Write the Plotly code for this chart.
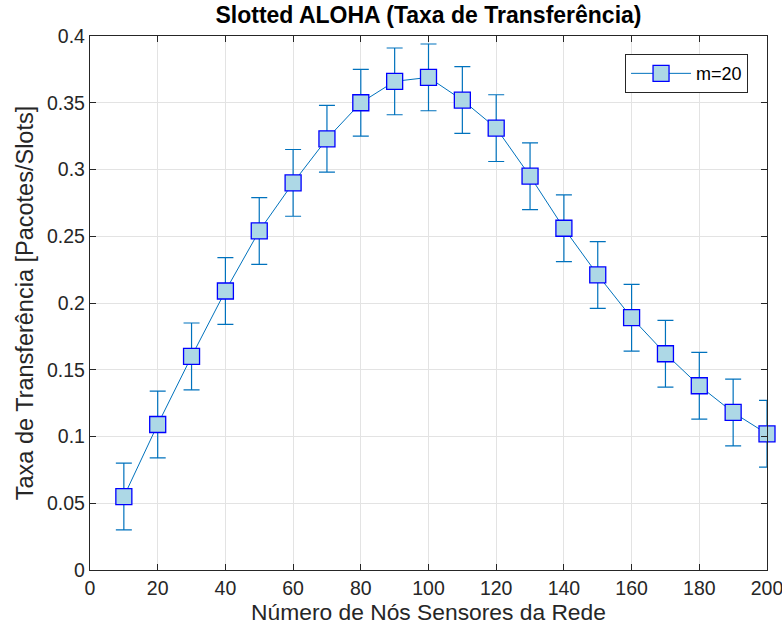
import plotly.graph_objects as go

nodes = [10, 20, 30, 40, 50, 60, 70, 80, 90, 100, 110, 120, 130, 140, 150, 160, 170, 180, 190, 200]
throughput = [0.055, 0.109, 0.160, 0.209, 0.254, 0.290, 0.323, 0.350, 0.366, 0.369,
              0.352, 0.331, 0.295, 0.256, 0.221, 0.189, 0.162, 0.138, 0.118, 0.102]
err = [0.025] * len(nodes)
series_name = "m=20"

xticks = [0, 20, 40, 60, 80, 100, 120, 140, 160, 180, 200]
yticks = [0, 0.05, 0.1, 0.15, 0.2, 0.25, 0.3, 0.35, 0.4]
ytick_text = ["0", "0.05", "0.1", "0.15", "0.2", "0.25", "0.3", "0.35", "0.4"]

FONT = "Liberation Sans, Arial"

fig = go.Figure()
fig.add_trace(go.Scatter(
    x=nodes, y=throughput, name=series_name, mode="lines+markers",
    line=dict(color="#0072BD", width=1),
    marker=dict(symbol="square", size=16, color="#ADD8E6",
                line=dict(color="#0000FF", width=1.3)),
    error_y=dict(type="data", array=err, visible=True, color="#0072BD",
                 thickness=1.2, width=8),
    cliponaxis=False,
))

axis_common = dict(
    showline=True, linecolor="#262626", linewidth=1.3, mirror="ticks",
    ticks="inside", ticklen=6, tickcolor="#262626", tickwidth=1.3,
    showgrid=True, gridcolor="#E3E3E3", gridwidth=1, zeroline=False,
    tickfont=dict(family=FONT, size=19.5, color="#262626"),
    ticklabeloverflow="allow",
)

fig.update_layout(
    width=782, height=637,
    margin=dict(l=90, r=15, t=36, b=67, autoexpand=False),
    paper_bgcolor="white", plot_bgcolor="white",
    title=dict(text="<b>Slotted ALOHA (Taxa de Transferência)</b>",
               x=0.5, xref="paper", xanchor="center",
               y=1, yref="container", yanchor="top", pad=dict(t=7),
               font=dict(family=FONT, size=23, color="black")),
    xaxis=dict(range=[0, 200], tickvals=xticks,
               title=dict(text="Número de Nós Sensores da Rede", standoff=6,
                          font=dict(family=FONT, size=22.8, color="#262626")),
               **axis_common),
    yaxis=dict(range=[0, 0.4], tickvals=yticks, ticktext=ytick_text,
               title=dict(text="Taxa de Transferência [Pacotes/Slots]", standoff=6,
                          font=dict(family=FONT, size=23.5, color="#262626")),
               **axis_common),
    legend=dict(x=0.972, y=0.966, xanchor="right", yanchor="top",
                bgcolor="white", bordercolor="#262626", borderwidth=1,
                itemwidth=60,
                font=dict(family=FONT, size=18, color="black")),
    showlegend=True,
)

fig.write_html("out.html")
